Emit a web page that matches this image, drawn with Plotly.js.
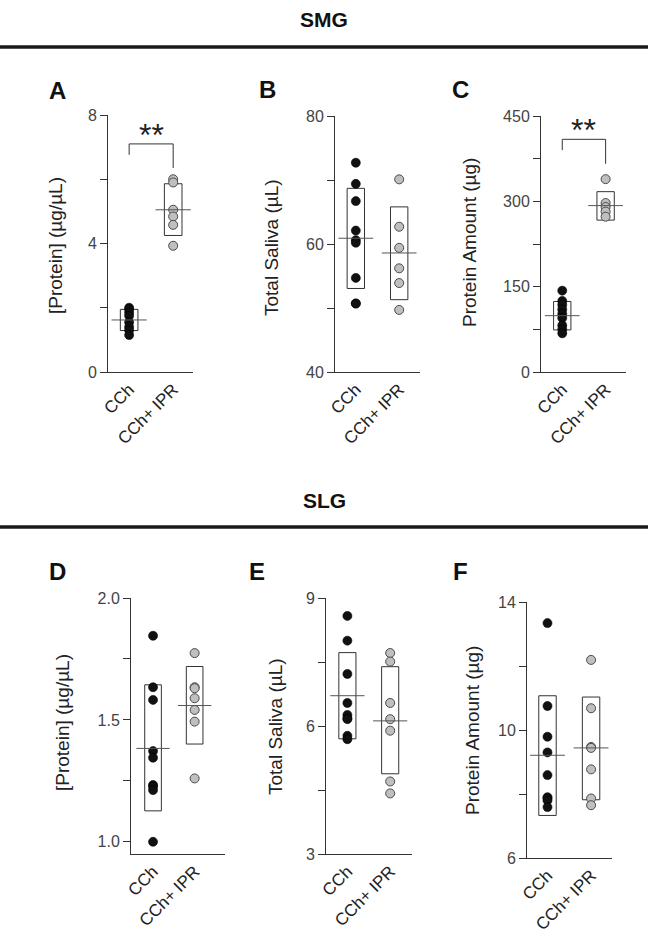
<!DOCTYPE html>
<html>
<head>
<meta charset="utf-8">
<script src="https://cdn.plot.ly/plotly-3.0.1.min.js"></script>
<style>html,body{margin:0;padding:0;background:#fff}#chart{width:648px;height:942px}</style>
</head>
<body>
<div id="chart"></div>
<script>
// ---------- DATA ----------
const categories = ["CCh", "CCh+ IPR"];

// A: SMG [Protein] (µg/µL)
const aCCh = [2.0, 1.95, 1.85, 1.75, 1.55, 1.4, 1.3, 1.15];
const aIPR = [6.0, 5.9, 5.05, 4.84, 4.58, 3.93];
const aMean = [1.62, 5.05];
const aBoxLo = [1.29, 4.25];
const aBoxHi = [1.95, 5.86];

// B: SMG Total Saliva (µL)
const bCCh = [72.7, 69.4, 66.7, 62.1, 60.6, 60.2, 54.7, 50.7, 50.7];
const bIPR = [70.1, 62.7, 59.4, 56.2, 53.9, 49.7];
const bMean = [60.9, 58.6];
const bBoxLo = [53.05, 51.3];
const bBoxHi = [68.7, 65.8];

// C: SMG Protein Amount (µg)
const cCCh = [143, 125, 118, 110, 102, 95, 82, 75, 68];
const cIPR = [339, 297, 290, 282, 273];
const cMean = [99, 292.5];
const cBoxLo = [74, 267];
const cBoxHi = [124, 317];

// D: SLG [Protein] (µg/µL)
const dCCh = [1.845, 1.634, 1.582, 1.372, 1.345, 1.233, 1.227, 1.212, 1.0];
const dIPR = [1.774, 1.634, 1.63, 1.589, 1.541, 1.493, 1.26];
const dMean = [1.383, 1.559];
const dBoxLo = [1.127, 1.401];
const dBoxHi = [1.644, 1.719];

// E: SLG Total Saliva (µL)
const eCCh = [8.58, 8.0, 7.22, 6.54, 6.26, 6.18, 6.16, 5.77, 5.69];
const eIPR = [7.71, 7.51, 6.54, 6.16, 5.89, 4.70, 4.42];
const eMean = [6.71, 6.12];
const eBoxLo = [5.70, 4.88];
const eBoxHi = [7.72, 7.39];

// F: SLG Protein Amount (µg)
const fCCh = [13.34, 10.75, 9.79, 9.30, 8.59, 7.9, 7.87, 7.80, 7.59];
const fIPR = [12.19, 10.68, 9.47, 9.44, 8.77, 7.86, 7.65];
const fMean = [9.21, 9.44];
const fBoxLo = [7.33, 7.82];
const fBoxHi = [11.07, 11.03];

// significance brackets: [top, left leg end, right leg end]
const aSig = [7.1, 6.76, 6.35];
const cSig = [409, 390, 366];
const sigLabel = "**";

// y tick values / labels
const aTicks = [0, 2, 4, 6, 8],        aTickText = ["0", "", "4", "", "8"];
const bTicks = [40, 50, 60, 70, 80],   bTickText = ["40", "", "60", "", "80"];
const cTicks = [0, 75, 150, 225, 300, 375, 450], cTickText = ["0", "", "150", "", "300", "", "450"];
const dTicks = [1.0, 1.25, 1.5, 1.75, 2.0], dTickText = ["1.0", "", "1.5", "", "2.0"];
const eTicks = [3, 4.5, 6, 7.5, 9],    eTickText = ["3", "", "6", "", "9"];
const fTicks = [6, 8, 10, 12, 14],     fTickText = ["6", "", "10", "", "14"];

const yTitles = ["[Protein] (\u00b5g/\u00b5L)", "Total Saliva (\u00b5L)", "Protein Amount (\u00b5g)",
                 "[Protein] (\u00b5g/\u00b5L)", "Total Saliva (\u00b5L)", "Protein Amount (\u00b5g)"];
const letters = ["A", "B", "C", "D", "E", "F"];
const sections = ["SMG", "SLG"];

// ---------- LAYOUT GEOMETRY (pixels) ----------
const W = 648, H = 942;
const FONT = "Liberation Sans, Arial, Helvetica, sans-serif";
const px = v => v / W, py = v => 1 - v / H;

const panels = [
  {cch: aCCh, ipr: aIPR, mean: aMean, lo: aBoxLo, hi: aBoxHi, ticks: aTicks, tt: aTickText, yr: [0, 8],
   xpx: [108, 193], ypx: [115, 372], xr: [-0.48, 1.45], sig: aSig, title: [56, 246], letter: [57, 91]},
  {cch: bCCh, ipr: bIPR, mean: bMean, lo: bBoxLo, hi: bBoxHi, ticks: bTicks, tt: bTickText, yr: [40, 80],
   xpx: [335, 420], ypx: [116, 372], xr: [-0.48, 1.48], title: [272, 248], letter: [267, 90]},
  {cch: cCCh, ipr: cIPR, mean: cMean, lo: cBoxLo, hi: cBoxHi, ticks: cTicks, tt: cTickText, yr: [0, 450],
   xpx: [541, 626], ypx: [116, 372], xr: [-0.49, 1.47], sig: cSig, title: [469, 243], letter: [460, 90]},
  {cch: dCCh, ipr: dIPR, mean: dMean, lo: dBoxLo, hi: dBoxHi, ticks: dTicks, tt: dTickText, yr: [0.95, 2.0],
   xpx: [131, 225], ypx: [598, 854], xr: [-0.53, 1.73], title: [62, 723], letter: [57, 571]},
  {cch: eCCh, ipr: eIPR, mean: eMean, lo: eBoxLo, hi: eBoxHi, ticks: eTicks, tt: eTickText, yr: [3, 9],
   xpx: [326, 412], ypx: [598, 854], xr: [-0.5, 1.51], title: [275, 727], letter: [257, 571]},
  {cch: fCCh, ipr: fIPR, mean: fMean, lo: fBoxLo, hi: fBoxHi, ticks: fTicks, tt: fTickText, yr: [6, 14],
   xpx: [527, 612], ypx: [602, 858], xr: [-0.47, 1.48], title: [472, 731], letter: [460, 571]}
];

const traces = [], shapes = [], annotations = [];
const layout = {
  width: W, height: H, margin: {l: 0, r: 0, t: 0, b: 0},
  paper_bgcolor: "#fff", plot_bgcolor: "#fff", showlegend: false,
  font: {family: FONT, color: "#333"}
};

const AXC = "#333";
const markerStyles = [
  {color: "#111", size: 9, line: {color: "#000", width: 0.6}},
  {color: "#bfbfbf", size: 9, line: {color: "#4a4a4a", width: 1}}
];

panels.forEach((p, k) => {
  const n = k === 0 ? "" : String(k + 1);
  const xa = "x" + n, ya = "y" + n;
  layout["xaxis" + n] = {
    domain: [px(p.xpx[0]), px(p.xpx[1])], anchor: ya, range: p.xr,
    tickvals: [0, 1], ticktext: categories, tickangle: -45, ticks: "",
    showline: true, linecolor: AXC, linewidth: 1, showgrid: false, zeroline: false,
    tickfont: {family: FONT, size: 17, color: "#222"}, fixedrange: true
  };
  layout["yaxis" + n] = {
    domain: [py(p.ypx[1]), py(p.ypx[0])], anchor: xa, range: p.yr,
    tickvals: p.ticks, ticktext: p.tt, ticks: "outside", ticklen: 7, tickcolor: AXC, tickwidth: 1,
    showline: true, linecolor: AXC, linewidth: 1, showgrid: false, zeroline: false,
    tickfont: {family: FONT, size: 16, color: "#444"}, fixedrange: true
  };
  const groups = [p.cch, p.ipr];
  groups.forEach((vals, g) => {
    // box (mean ± SD)
    shapes.push({type: "rect", xref: xa, yref: ya, x0: g - 0.2, x1: g + 0.2,
      y0: p.lo[g], y1: p.hi[g], line: {color: "#333", width: 1}, fillcolor: "rgba(0,0,0,0)", layer: "below"});
    // points
    traces.push({type: "scatter", mode: "markers", xaxis: xa, yaxis: ya,
      x: vals.map(() => g), y: vals, marker: markerStyles[g], hoverinfo: "y"});
    // mean line
    traces.push({type: "scatter", mode: "lines", xaxis: xa, yaxis: ya,
      x: [g - 0.4, g + 0.4], y: [p.mean[g], p.mean[g]], line: {color: "#555", width: 1}, hoverinfo: "skip"});
  });
  if (p.sig) {
    traces.push({type: "scatter", mode: "lines", xaxis: xa, yaxis: ya,
      x: [0, 0, 1, 1], y: [p.sig[1], p.sig[0], p.sig[0], p.sig[2]],
      line: {color: "#333", width: 1}, hoverinfo: "skip"});
    annotations.push({xref: xa, yref: ya, x: 0.5, y: p.sig[0], yanchor: "bottom", xanchor: "center",
      text: sigLabel, showarrow: false, yshift: -11, font: {family: FONT, size: 32, color: "#222"}});
  }
  annotations.push({xref: "paper", yref: "paper", x: px(p.title[0]), y: py(p.title[1]),
    xanchor: "center", yanchor: "middle", text: yTitles[k], textangle: -90, showarrow: false,
    font: {family: FONT, size: 19, color: "#222"}});
  annotations.push({xref: "paper", yref: "paper", x: px(p.letter[0]), y: py(p.letter[1]),
    xanchor: "center", yanchor: "middle", text: "<b>" + letters[k] + "</b>", showarrow: false,
    font: {family: FONT, size: 24, color: "#111"}});
});

// section headings and separators
[[20, 47], [500, 527]].forEach((pos, i) => {
  annotations.push({xref: "paper", yref: "paper", x: 0.5, y: py(pos[0]), xanchor: "center", yanchor: "middle",
    text: "<b>" + sections[i] + "</b>", showarrow: false, font: {family: FONT, size: 21, color: "#111"}});
  shapes.push({type: "line", xref: "paper", yref: "paper", x0: 0, x1: 1, y0: py(pos[1]), y1: py(pos[1]),
    line: {color: "#1a1a1a", width: 3.5}});
});

layout.shapes = shapes;
layout.annotations = annotations;

Plotly.newPlot("chart", traces, layout, {staticPlot: true, displayModeBar: false});
</script>
</body>
</html>
